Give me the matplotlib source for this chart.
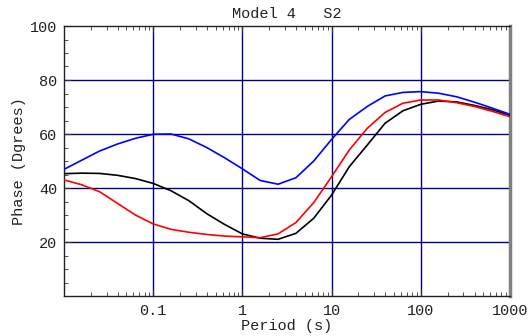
import numpy as np
import matplotlib
matplotlib.use('Agg')
import matplotlib.pyplot as plt
from matplotlib.ticker import FixedLocator, FixedFormatter, LogLocator, NullFormatter, MultipleLocator

# periods (s), 5 samples per decade
period = [0.01, 0.0158, 0.0251, 0.0398, 0.0631,
          0.1, 0.158, 0.251, 0.398, 0.631,
          1.0, 1.58, 2.51, 3.98, 6.31,
          10.0, 15.8, 25.1, 39.8, 63.1,
          100.0, 158.0, 251.0, 398.0, 631.0, 1000.0]

# phase curves (degrees)
phase_black = [45.3, 45.5, 45.4, 44.7, 43.5, 41.7, 39.0, 35.3, 30.5, 26.5,
               23.0, 21.4, 21.0, 23.2, 28.8, 37.4, 47.9, 55.9, 64.0, 68.6,
               71.0, 72.2, 71.9, 70.6, 69.0, 66.9]
phase_blue = [46.9, 50.3, 53.7, 56.3, 58.4, 59.9, 60.0, 58.2, 55.0, 51.2,
              47.1, 42.8, 41.4, 43.8, 50.0, 58.0, 65.4, 70.2, 74.1, 75.4,
              75.7, 75.1, 73.8, 71.8, 69.6, 67.3]
phase_red = [43.0, 41.2, 38.6, 34.3, 30.0, 26.7, 24.7, 23.6, 22.8, 22.2,
             21.9, 21.6, 23.0, 27.2, 34.6, 44.2, 54.1, 62.1, 68.0, 71.4,
             72.6, 72.6, 71.6, 70.2, 68.4, 66.4]

xticks = [0.1, 1, 10, 100, 1000]
xticklabels = ['0.1', '1', '10', '100', '1000']
yticks = [20, 40, 60, 80, 100]

plt.rcParams['font.family'] = ['Liberation Mono', 'DejaVu Sans Mono']

fig = plt.figure(figsize=(5.31, 3.36), dpi=100)
ax = fig.add_axes([64/531, 40/336, 446/531, 270/336])

# grid
for xv in xticks[:-1]:
    ax.axvline(xv, color='#000080', linewidth=1.0, zorder=1)
for yv in yticks[:-1]:
    ax.axhline(yv, color='#000080', linewidth=1.0, zorder=1)

ax.plot(period, phase_black, color='black', linewidth=1.2, zorder=3)
ax.plot(period, phase_blue, color='#0000ff', linewidth=1.2, zorder=3)
ax.plot(period, phase_red, color='#ff0000', linewidth=1.2, zorder=4)

ax.set_xscale('log')
ax.set_xlim(0.01, 1000)
ax.set_ylim(0, 100)

ax.xaxis.set_major_locator(FixedLocator(xticks))
ax.xaxis.set_major_formatter(FixedFormatter(xticklabels))
ax.xaxis.set_minor_locator(LogLocator(base=10, subs=np.arange(2, 10), numticks=20))
ax.xaxis.set_minor_formatter(NullFormatter())
ax.yaxis.set_major_locator(FixedLocator(yticks))
ax.yaxis.set_minor_locator(MultipleLocator(5))

ax.tick_params(axis='both', which='both', direction='in', labelsize=11,
               top=True, right=False, colors='#333333', labelcolor='#222222')
ax.tick_params(axis='x', which='major', length=5, pad=6)
ax.tick_params(axis='x', which='minor', length=3)
ax.tick_params(axis='y', which='major', length=5, pad=5)
ax.tick_params(axis='y', which='minor', length=3)

for side in ['left', 'top', 'bottom']:
    ax.spines[side].set_color('#222222')
    ax.spines[side].set_linewidth(1.0)
ax.spines['right'].set_color('#808080')
ax.spines['right'].set_linewidth(2.5)

ax.set_title('Model 4   S2', fontsize=11, pad=6, color='#222222')
ax.set_xlabel('Period (s)', fontsize=11, labelpad=0.5, color='#222222')
ax.set_ylabel('Phase (Dgrees)', fontsize=11, labelpad=3, color='#222222')

fig.savefig('out.png', dpi=100)
